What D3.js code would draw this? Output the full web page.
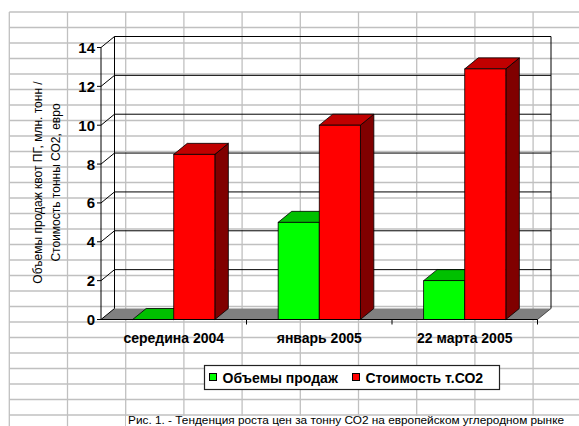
<!DOCTYPE html>
<html>
<head>
<meta charset="utf-8">
<script src="https://cdn.jsdelivr.net/npm/d3@7"></script>
<style>
  body { margin: 0; background: #fff; }
  svg { display: block; }
  text { font-family: Arial, "Liberation Sans", sans-serif; fill: #000; }
</style>
</head>
<body>
<script>
// chart data
const categories = ["середина 2004", "январь 2005", "22 марта 2005"];
const seriesNames = ["Объемы продаж", "Стоимость т.СО2"];
const volumes = [0, 5, 2];
const prices = [8.5, 10, 12.9];
const yTicks = [0, 2, 4, 6, 8, 10, 12, 14];
const yTitle = ["Объемы продаж квот ПГ, млн. тонн /", "Стоимость тонны СО2, евро"];
const caption = "Рис. 1. - Тенденция роста цен за тонну СО2 на европейском углеродном рынке";

const frontCol = ["#00ff00", "#ff0000"];
const topCol = ["#00c000", "#c00000"];
const sideCol = ["#008000", "#800000"];

run();

function run() {
    let width = 579, height = 426;
    let svg = d3.select("body").append("svg")
        .attr("width", width)
        .attr("height", height);

    drawSheet(svg, width, height);

    // 3d offset of the chart depth
    let dx = 13.5, dy = -11;

    let y = d3.scaleLinear().domain([0, 14]).range([319.5, 47.5]);
    let x = d3.scaleBand().domain(categories).range([101, 537.5]).padding(0);
    let xs = d3.scaleBand().domain(seriesNames).range([0, x.bandwidth()])
        .paddingInner(0).paddingOuter(0.77);

    let g = svg.append("g").attr("class", "chart");

    // floor
    let fx0 = x.range()[0], fx1 = x.range()[1], fy = y(0);
    g.append("path")
        .attr("d", "M" + fx0 + "," + fy + "L" + (fx0 + dx) + "," + (fy + dy)
            + "L" + (fx1 + dx) + "," + (fy + dy) + "L" + fx1 + "," + fy + "Z")
        .attr("fill", "#808080");

    // back wall grid lines, side wall diagonals, value ticks
    yTicks.forEach(function (t) {
        if (t > 0) {
            g.append("line")
                .attr("x1", fx0 + dx).attr("x2", fx1 + dx)
                .attr("y1", y(t) + dy).attr("y2", y(t) + dy)
                .attr("stroke", "#000");
        }
        g.append("line")
            .attr("x1", fx0).attr("y1", y(t))
            .attr("x2", fx0 + dx).attr("y2", y(t) + dy)
            .attr("stroke", "#000");
        g.append("line")
            .attr("x1", fx0 - 4).attr("x2", fx0)
            .attr("y1", y(t)).attr("y2", y(t))
            .attr("stroke", "#000");
        g.append("text")
            .attr("x", fx0 - 6).attr("y", y(t) + 5.5)
            .attr("text-anchor", "end")
            .attr("font-size", 15).attr("font-weight", "bold")
            .text(t);
    });

    // wall edges
    g.append("line")
        .attr("x1", fx0 + dx).attr("x2", fx0 + dx)
        .attr("y1", y(0) + dy).attr("y2", y(14) + dy)
        .attr("stroke", "#000");
    g.append("line")
        .attr("x1", fx1 + dx).attr("x2", fx1 + dx)
        .attr("y1", y(0) + dy).attr("y2", y(14) + dy)
        .attr("stroke", "#000");
    g.append("line")
        .attr("x1", fx0).attr("x2", fx0)
        .attr("y1", y(0)).attr("y2", y(14))
        .attr("stroke", "#000");

    // bars, back to front within each category
    categories.forEach(function (c, i) {
        [volumes[i], prices[i]].forEach(function (v, s) {
            let bx = x(c) + xs(seriesNames[s]);
            let bw = xs.bandwidth();
            let by = y(v), b0 = y(0);
            // side
            g.append("path")
                .attr("d", "M" + (bx + bw) + "," + by + "L" + (bx + bw + dx) + "," + (by + dy)
                    + "L" + (bx + bw + dx) + "," + (b0 + dy) + "L" + (bx + bw) + "," + b0 + "Z")
                .attr("fill", sideCol[s]).attr("stroke", "#000").attr("stroke-width", 0.8);
            // top
            g.append("path")
                .attr("d", "M" + bx + "," + by + "L" + (bx + dx) + "," + (by + dy)
                    + "L" + (bx + bw + dx) + "," + (by + dy) + "L" + (bx + bw) + "," + by + "Z")
                .attr("fill", topCol[s]).attr("stroke", "#000").attr("stroke-width", 0.8);
            // front
            g.append("rect")
                .attr("x", bx).attr("y", by)
                .attr("width", bw).attr("height", b0 - by)
                .attr("fill", frontCol[s]).attr("stroke", "#000").attr("stroke-width", 0.8);
        });
    });

    // category axis
    g.append("line")
        .attr("x1", fx0).attr("x2", fx1)
        .attr("y1", fy).attr("y2", fy)
        .attr("stroke", "#000");
    g.append("line")
        .attr("x1", fx1).attr("y1", fy)
        .attr("x2", fx1 + dx).attr("y2", fy + dy)
        .attr("stroke", "#000").attr("stroke-width", 0.6);
    categories.forEach(function (c) {
        g.append("line")
            .attr("x1", x(c) + x.bandwidth()).attr("x2", x(c) + x.bandwidth())
            .attr("y1", fy).attr("y2", fy + 5)
            .attr("stroke", "#000");
        g.append("text")
            .attr("x", x(c) + x.bandwidth() / 2).attr("y", 342.5)
            .attr("text-anchor", "middle")
            .attr("font-size", 14).attr("font-weight", "bold")
            .text(c);
    });

    // value axis title
    yTitle.forEach(function (t, i) {
        g.append("text")
            .attr("transform", "translate(" + (41.5 + i * 18) + ",182.5) rotate(-90)")
            .attr("text-anchor", "middle")
            .attr("font-size", 12)
            .text(t);
    });

    // legend
    let lg = svg.append("g").attr("class", "legend");
    lg.append("rect")
        .attr("x", 204.5).attr("y", 365.5)
        .attr("width", 295).attr("height", 24)
        .attr("fill", "#fff").attr("stroke", "#222").attr("stroke-width", 1.2);
    let lx = [209.5, 352.5];
    seriesNames.forEach(function (n, s) {
        lg.append("rect")
            .attr("x", lx[s]).attr("y", 373.5)
            .attr("width", 7).attr("height", 7)
            .attr("fill", frontCol[s]).attr("stroke", "#000");
        lg.append("text")
            .attr("x", lx[s] + 13).attr("y", 382.5)
            .attr("font-size", 14).attr("font-weight", "bold")
            .text(n);
    });

    // caption
    svg.append("rect")
        .attr("x", 126).attr("y", 416)
        .attr("width", width - 126).attr("height", 10)
        .attr("fill", "#fff");
    svg.append("text")
        .attr("x", 128).attr("y", 424)
        .attr("font-size", 11)
        .attr("textLength", 436)
        .attr("lengthAdjust", "spacingAndGlyphs")
        .text(caption);
}

// spreadsheet cells behind the chart
function drawSheet(svg, width, height) {
    let colW = 58.2, rowH = 15.5, left = 9.3, top = 12;
    let grid = svg.append("g").attr("class", "sheet")
        .attr("stroke", "#c0c0c0").attr("stroke-width", 1.3);
    d3.range(left, width, colW).forEach(function (gx) {
        grid.append("line")
            .attr("x1", gx).attr("x2", gx)
            .attr("y1", top).attr("y2", height);
    });
    d3.range(top, height, rowH).forEach(function (gy) {
        grid.append("line")
            .attr("x1", left).attr("x2", width)
            .attr("y1", gy).attr("y2", gy);
    });
}
</script>
</body>
</html>
